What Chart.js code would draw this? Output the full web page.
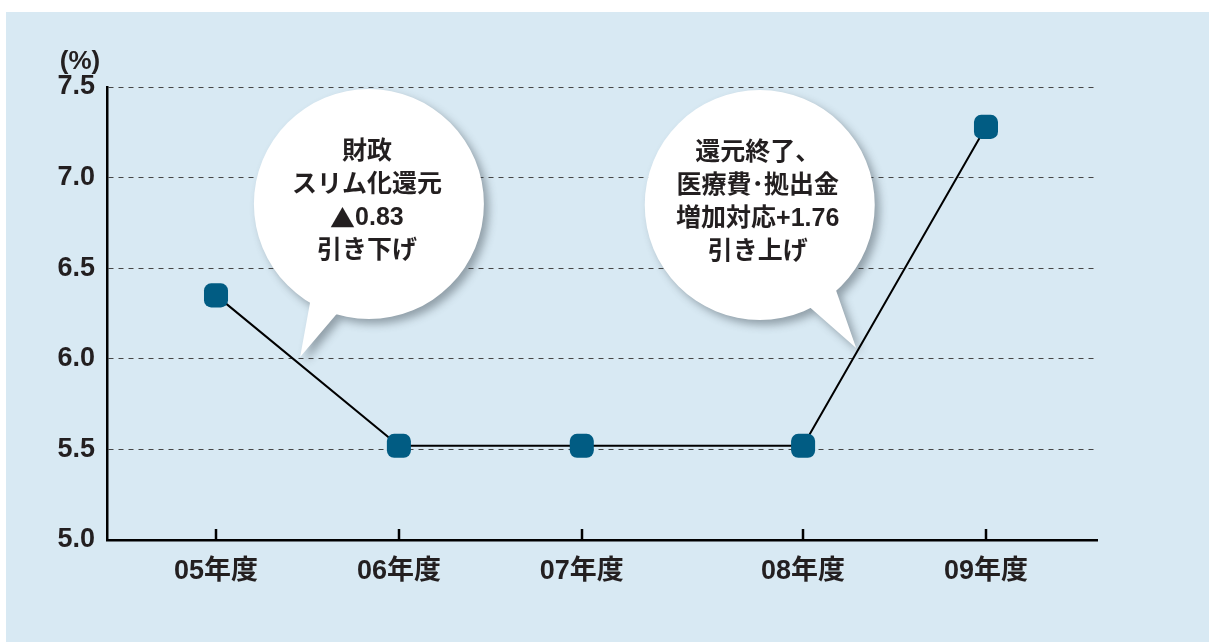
<!DOCTYPE html>
<html>
<head>
<meta charset="utf-8">
<script src="https://cdn.jsdelivr.net/npm/chart.js@4"></script>
<style>
  html, body { margin: 0; padding: 0; background: #fff; }
  #wrap { width: 1209px; height: 642px; }
</style>
</head>
<body>
<div id="wrap"><canvas id="rateChart" width="1209" height="642"></canvas></div>
<script>
const yearLabels = ['05年度', '06年度', '07年度', '08年度', '09年度'];
const yearPos = [0, 1, 2, 3.21, 4.21];     // 08 is set a bit further right in the original
const rateValues = [6.35, 5.52, 5.52, 5.52, 7.28];
const yTicks = [5.0, 5.5, 6.0, 6.5, 7.0, 7.5];

// speech bubbles: centre and tail tip in data units, radius in px
const bubbleLines = [
    ['財政', 'スリム化還元', '▲0.83', '引き下げ'],
    ['還元終了、', '医療費･拠出金', '増加対応+1.76', '引き上げ']
];
const bubbleCenters = [[0.836, 6.854], [2.973, 6.849]];
const bubbleTips = [[0.46, 6.01], [3.50, 6.06]];
const bubbleTailAngles = [[105, 122], [47, 65]]; // degrees where the tail leaves the circle

const FONT = '"Liberation Sans", "Noto Sans CJK JP", Arial, sans-serif';
const CJK_FONT = '"Noto Sans CJK JP", "Liberation Sans", sans-serif';
const TEXT = '#231f20';

const panelPlugin = {
    id: 'panel',
    beforeDraw(chart) {
        const ctx = chart.ctx;
        ctx.save();
        ctx.fillStyle = '#ffffff';
        ctx.fillRect(0, 0, chart.width, chart.height);
        ctx.fillStyle = '#d8e9f3';
        ctx.fillRect(6, 12, chart.width - 6, chart.height - 12);
        ctx.restore();
    }
};

// draws one centred line, the ▲ sign taken from the CJK font so it comes out full size
function drawMixedLine(ctx, text, cx, cy, size) {
    const parts = [];
    if (text.startsWith('▲')) {
        parts.push({ t: '▲', f: 'bold ' + size + 'px ' + CJK_FONT });
        parts.push({ t: text.slice(1), f: 'bold ' + size + 'px ' + FONT });
    } else {
        parts.push({ t: text, f: 'bold ' + size + 'px ' + FONT });
    }
    let total = 0;
    parts.forEach(p => { ctx.font = p.f; p.w = ctx.measureText(p.t).width; total += p.w; });
    let x = cx - total / 2;
    ctx.textAlign = 'left';
    parts.forEach(p => { ctx.font = p.f; ctx.fillText(p.t, x, cy); x += p.w; });
}

const bubblePlugin = {
    id: 'bubbles',
    beforeDatasetsDraw(chart) {
        const ctx = chart.ctx;
        const xs = chart.scales.x, ys = chart.scales.y;
        const r = 115;
        bubbleLines.forEach((lines, i) => {
            const cx = xs.getPixelForValue(bubbleCenters[i][0]);
            const cy = ys.getPixelForValue(bubbleCenters[i][1]);
            const tx = xs.getPixelForValue(bubbleTips[i][0]);
            const ty = ys.getPixelForValue(bubbleTips[i][1]);
            const a1 = bubbleTailAngles[i][0] * Math.PI / 180;
            const a2 = bubbleTailAngles[i][1] * Math.PI / 180;
            ctx.save();
            ctx.beginPath();
            ctx.arc(cx, cy, r, 0, Math.PI * 2);
            ctx.moveTo(cx + Math.cos(a1) * (r - 6), cy + Math.sin(a1) * (r - 6));
            ctx.lineTo(tx, ty);
            ctx.lineTo(cx + Math.cos(a2) * (r - 6), cy + Math.sin(a2) * (r - 6));
            ctx.closePath();
            ctx.shadowColor = 'rgba(60, 70, 80, 0.45)';
            ctx.shadowBlur = 8;
            ctx.shadowOffsetX = 5;
            ctx.shadowOffsetY = 5;
            ctx.fillStyle = '#ffffff';
            ctx.fill('nonzero');
            ctx.restore();

            ctx.save();
            ctx.fillStyle = TEXT;
            ctx.textBaseline = 'middle';
            const lh = 33;
            const y0 = cy - lh * (lines.length - 1) / 2 - 2;
            lines.forEach((t, k) => drawMixedLine(ctx, t, cx - 2, y0 + k * lh, 25));
            ctx.restore();
        });
    }
};

const axisExtrasPlugin = {
    id: 'axisExtras',
    afterDraw(chart) {
        const ctx = chart.ctx;
        const xs = chart.scales.x;
        const bottom = chart.chartArea.bottom;
        ctx.save();
        ctx.strokeStyle = '#000';
        ctx.lineWidth = 2.5;
        yearPos.forEach(v => {
            const px = Math.round(xs.getPixelForValue(v));
            ctx.beginPath();
            ctx.moveTo(px, bottom);
            ctx.lineTo(px, bottom - 11);
            ctx.stroke();
        });
        ctx.fillStyle = TEXT;
        ctx.font = 'bold 26px ' + FONT;
        ctx.textAlign = 'center';
        ctx.textBaseline = 'middle';
        ctx.fillText('(%)', 80, 62);
        ctx.restore();
    }
};

new Chart(document.getElementById('rateChart').getContext('2d'), {
    type: 'line',
    data: {
        datasets: [{
            data: yearPos.map((x, i) => ({ x: x, y: rateValues[i] })),
            borderColor: '#000',
            borderWidth: 2,
            tension: 0,
            pointStyle: 'rectRounded',
            pointRadius: 14,
            pointBackgroundColor: '#015c83',
            pointBorderColor: '#015c83',
            pointBorderWidth: 0,
            clip: false
        }]
    },
    options: {
        responsive: false,
        animation: false,
        events: [],
        layout: { padding: { top: 87, right: 112, left: 0, bottom: 0 } },
        plugins: {
            legend: { display: false },
            tooltip: { enabled: false }
        },
        scales: {
            x: {
                type: 'linear',
                min: -0.596,
                max: 4.817,
                afterBuildTicks: (scale) => { scale.ticks = yearPos.map(v => ({ value: v })); },
                afterFit: (scale) => { scale.height = 102; },
                grid: { display: false, drawTicks: false },
                border: { display: true, color: '#000', width: 2.5 },
                ticks: {
                    autoSkip: false,
                    maxRotation: 0,
                    padding: 15,
                    color: TEXT,
                    font: { family: FONT, size: 27, weight: 'bold' },
                    callback: (v) => yearLabels[yearPos.indexOf(v)]
                }
            },
            y: {
                min: 5,
                max: 7.5,
                afterBuildTicks: (scale) => { scale.ticks = yTicks.map(v => ({ value: v })); },
                afterFit: (scale) => { scale.width = 107; },
                grid: { color: '#444', lineWidth: 1, drawTicks: false },
                border: { display: true, color: '#000', width: 2.5, dash: [5, 5] },
                ticks: {
                    padding: 12,
                    color: TEXT,
                    font: { family: FONT, size: 27, weight: 'bold' },
                    callback: (v) => v.toFixed(1)
                }
            }
        }
    },
    plugins: [panelPlugin, bubblePlugin, axisExtrasPlugin]
});
</script>
</body>
</html>
